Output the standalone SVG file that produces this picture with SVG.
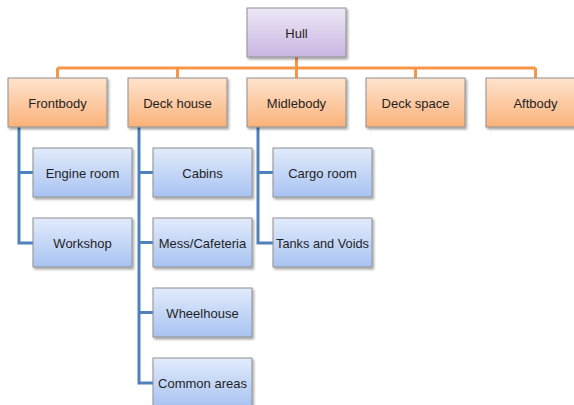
<svg xmlns="http://www.w3.org/2000/svg" width="574" height="405" viewBox="0 0 574 405">
  <defs>
    <linearGradient id="gPurple" x1="0" y1="0" x2="0" y2="1">
      <stop offset="0" stop-color="#eee8f6"/>
      <stop offset="1" stop-color="#c8b5e2"/>
    </linearGradient>
    <linearGradient id="gOrange" x1="0" y1="0" x2="0" y2="1">
      <stop offset="0" stop-color="#fee3cd"/>
      <stop offset="1" stop-color="#fbb27a"/>
    </linearGradient>
    <linearGradient id="gBlue" x1="0" y1="0" x2="0" y2="1">
      <stop offset="0" stop-color="#e2ebfb"/>
      <stop offset="1" stop-color="#a8c3f2"/>
    </linearGradient>
    <filter id="shadow" x="-10%" y="-10%" width="125%" height="130%">
      <feDropShadow dx="1.5" dy="2" stdDeviation="1.2" flood-color="#000" flood-opacity="0.35"/>
    </filter>
  </defs>
  <style>
    .box { stroke: #8f8f8f; stroke-width: 1; filter: url(#shadow); }
    .root { fill: url(#gPurple); }
    .sec { fill: url(#gOrange); }
    .sub { fill: url(#gBlue); }
    .lbl { font-family: "Liberation Sans", Arial, sans-serif; font-size: 13px; fill: #1f1f1f; text-anchor: middle; dominant-baseline: central; }
    .orange { stroke: #f79646; stroke-width: 3; fill: none; }
    .blue { stroke: #4f81bd; stroke-width: 3; fill: none; }
  </style>
  <rect width="574" height="405" fill="#ffffff"/>

  <g id="connectors">
    <!-- root to sections -->
    <path class="orange" d="M296.5 57 V68 M57.5 68 H535.5 M57.5 68 V78 M177.5 68 V78 M296.5 68 V78 M415.5 68 V78 M535.5 68 V78"/>
    <!-- Frontbody children -->
    <path class="blue" d="M19 127 V243 H33 M19 172.5 H33"/>
    <!-- Deck house children -->
    <path class="blue" d="M139 127 V383 H153 M139 172.5 H153 M139 242.5 H153 M139 312.5 H153"/>
    <!-- Midlebody children -->
    <path class="blue" d="M258 127 V243 H273 M258 172.5 H273"/>
  </g>

  <g id="hull"><rect class="box root" x="247" y="8" width="99" height="49"/><text class="lbl" x="296.5" y="33">Hull</text></g>

  <g id="frontbody"><rect class="box sec" x="8" y="78" width="99" height="49"/><text class="lbl" x="57.5" y="103">Frontbody</text></g>
  <g id="deckhouse"><rect class="box sec" x="128" y="78" width="99" height="49"/><text class="lbl" x="177.5" y="103">Deck house</text></g>
  <g id="midlebody"><rect class="box sec" x="247" y="78" width="99" height="49"/><text class="lbl" x="296.5" y="103">Midlebody</text></g>
  <g id="deckspace"><rect class="box sec" x="366" y="78" width="99" height="49"/><text class="lbl" x="415.5" y="103">Deck space</text></g>
  <g id="aftbody"><rect class="box sec" x="486" y="78" width="99" height="49"/><text class="lbl" x="535.5" y="103">Aftbody</text></g>

  <g id="engineroom"><rect class="box sub" x="33" y="148" width="99" height="49"/><text class="lbl" x="82.5" y="173">Engine room</text></g>
  <g id="workshop"><rect class="box sub" x="33" y="218" width="99" height="49"/><text class="lbl" x="82.5" y="243">Workshop</text></g>

  <g id="cabins"><rect class="box sub" x="153" y="148" width="99" height="49"/><text class="lbl" x="202.5" y="173">Cabins</text></g>
  <g id="mess"><rect class="box sub" x="153" y="218" width="99" height="49"/><text class="lbl" x="202.5" y="243">Mess/Cafeteria</text></g>
  <g id="wheelhouse"><rect class="box sub" x="153" y="288" width="99" height="49"/><text class="lbl" x="202.5" y="313">Wheelhouse</text></g>
  <g id="commonareas"><rect class="box sub" x="153" y="358" width="99" height="49"/><text class="lbl" x="202.5" y="383">Common areas</text></g>

  <g id="cargoroom"><rect class="box sub" x="273" y="148" width="99" height="49"/><text class="lbl" x="322.5" y="173">Cargo room</text></g>
  <g id="tanks"><rect class="box sub" x="273" y="218" width="99" height="49"/><text class="lbl" x="322.5" y="243" textLength="93" lengthAdjust="spacingAndGlyphs">Tanks and Voids</text></g>
</svg>
